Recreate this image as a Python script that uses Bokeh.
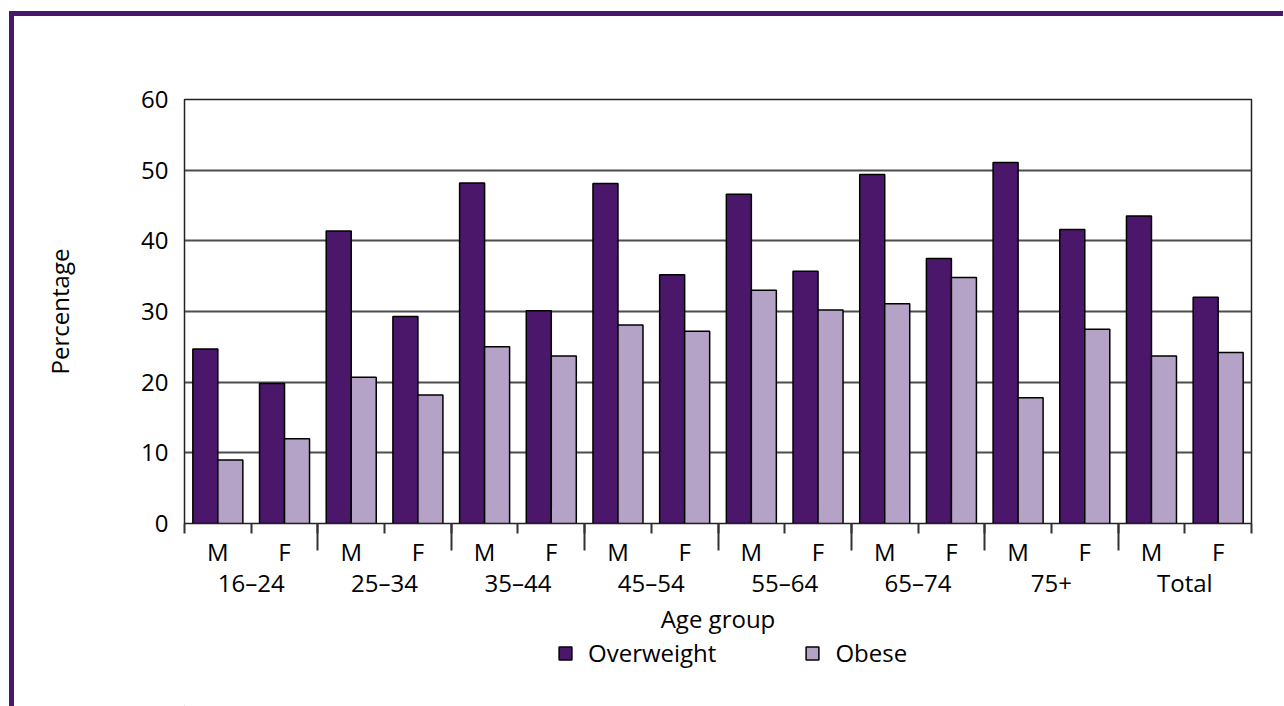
from bokeh.plotting import figure
from bokeh.models import Range1d, FixedTicker, LinearAxis, Legend, LegendItem
from bokeh.layouts import column
from bokeh.embed import file_html
from bokeh.resources import INLINE
import numpy as np

groups = ["16–24", "25–34", "35–44", "45–54", "55–64", "65–74", "75+", "Total"]
sexes = ["M", "F"]
overweight = [24.7, 19.8, 41.4, 29.3, 48.2, 30.1, 48.1, 35.2,
              46.6, 35.7, 49.4, 37.5, 51.1, 41.6, 43.5, 32.0]
obese = [9.0, 12.0, 20.7, 18.2, 25.0, 23.7, 28.1, 27.2,
         33.0, 30.2, 31.1, 34.8, 17.8, 27.5, 23.7, 24.2]
series_names = ["Overweight", "Obese"]
y_ticks = [0, 10, 20, 30, 40, 50, 60]

FONT = "Open Sans"
FS = "24px"
C_OW = "#4b176b"
C_OB = "#b5a3c7"

n = len(overweight)
slot = np.arange(n) + 0.5
bw = 0.375

p1 = figure(frame_width=1067, frame_height=424, min_border_left=170, min_border_top=83,
            min_border_right=32, min_border_bottom=115,
            x_range=Range1d(0, n), y_range=Range1d(0, 60),
            output_backend="svg", toolbar_location=None, x_axis_location=None)
p1.background_fill_color = "white"
p1.border_fill_color = "white"
p1.outline_line_color = "#222222"
p1.outline_line_width = 1.5

p1.vbar(x=slot - bw / 2, top=overweight, width=bw, fill_color=C_OW, line_color="black", line_width=1.5)
p1.vbar(x=slot + bw / 2, top=obese, width=bw, fill_color=C_OB, line_color="black", line_width=1.5)

p1.xgrid.visible = False
p1.ygrid.grid_line_color = "#4d4d4d"
p1.ygrid.grid_line_width = 2
p1.ygrid.ticker = FixedTicker(ticks=y_ticks)

ya = p1.yaxis[0]
ya.ticker = FixedTicker(ticks=y_ticks)
ya.major_tick_out = 0
ya.major_tick_in = 0
ya.minor_tick_out = 0
ya.minor_tick_in = 0
ya.axis_line_color = "#222222"
ya.major_label_standoff = 16
ya.major_label_text_font = FONT
ya.major_label_text_font_size = FS
ya.major_label_text_color = "black"
ya.axis_label = "Percentage"
ya.axis_label_text_font = FONT
ya.axis_label_text_font_size = FS
ya.axis_label_text_font_style = "normal"
ya.axis_label_text_color = "black"
ya.axis_label_standoff = 62

group_bounds = [2 * i for i in range(1, len(groups))]
all_bounds = list(range(n + 1))

# axis B: M / F labels with short ticks at every slot boundary
sex_labels = [sexes[i % 2] for i in range(n)]
axB = LinearAxis(ticker=FixedTicker(ticks=list(slot), minor_ticks=all_bounds),
                 major_label_overrides={float(x): s for x, s in zip(slot, sex_labels)},
                 major_tick_out=0, major_tick_in=0, minor_tick_out=10, minor_tick_in=0,
                 minor_tick_line_color="#333333", minor_tick_line_width=2,
                 axis_line_color="#222222",
                 major_label_text_font=FONT, major_label_text_font_size=FS,
                 major_label_text_color="black", major_label_standoff=1)
p1.add_layout(axB, "below")

# axis C: group labels, long ticks at group boundaries reaching up to the frame
gcent = [2 * i + 1 for i in range(len(groups))]
axC = LinearAxis(ticker=FixedTicker(ticks=gcent, minor_ticks=group_bounds),
                 major_label_overrides={g: s for g, s in zip(gcent, groups)},
                 major_tick_out=0, major_tick_in=0,
                 minor_tick_in=47, minor_tick_out=-20,
                 minor_tick_line_color="#333333", minor_tick_line_width=2,
                 axis_line_color=None,
                 major_label_text_font=FONT, major_label_text_font_size=FS,
                 major_label_text_color="black", major_label_standoff=-5,
                 axis_label="Age group", axis_label_text_font=FONT,
                 axis_label_text_font_size=FS, axis_label_text_font_style="normal",
                 axis_label_text_color="black", axis_label_standoff=0)
p1.add_layout(axC, "below")

# legend strip below the chart (key glyphs sit outside the visible range)
p2 = figure(width=1269, height=68, x_range=Range1d(0, 1), y_range=Range1d(0, 1),
            min_border=0, output_backend="svg", toolbar_location=None,
            x_axis_location=None, y_axis_location=None)
p2.outline_line_color = None
p2.grid.visible = False
p2.background_fill_color = "white"
p2.border_fill_color = "white"
k1 = p2.vbar(x=[-5], top=[-1], width=0.1, fill_color=C_OW, line_color="black", line_width=1.5)
k2 = p2.vbar(x=[-5], top=[-1], width=0.1, fill_color=C_OB, line_color="black", line_width=1.5)
legend = Legend(items=[LegendItem(label=series_names[0], renderers=[k1]),
                       LegendItem(label=series_names[1], renderers=[k2])],
                orientation="horizontal", location=(373, 37),
                glyph_width=16, glyph_height=16, label_standoff=15, spacing=88,
                label_text_font=FONT, label_text_font_size=FS, label_text_color="black",
                border_line_color=None, background_fill_alpha=0, padding=0, margin=0)
p2.add_layout(legend, "center")

page = column(p1, p2, spacing=0,
              styles={"border-top": f"5px solid {C_OW}", "border-left": f"5px solid {C_OW}",
                      "margin-top": "11px", "margin-left": "9px"})

open("out.html", "w").write(file_html(page, INLINE))
